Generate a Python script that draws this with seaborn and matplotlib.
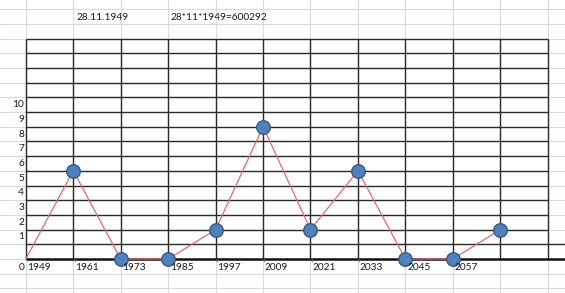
import matplotlib
matplotlib.use("Agg")
import matplotlib.pyplot as plt
import seaborn as sns
import pandas as pd
import numpy as np

# ---- data ----
years = [1949, 1961, 1973, 1985, 1997, 2009, 2021, 2033, 2045, 2057, 2069]
values = [0, 6, 0, 0, 2, 9, 2, 6, 0, 0, 2]
year_labels = ["1949", "1961", "1973", "1985", "1997", "2009", "2021", "2033", "2045", "2057"]
y_labels = ["1", "2", "3", "4", "5", "6", "7", "8", "9", "10"]
title_date = "28.11.1949"
title_formula = "28*11*1949=600292"

sns.set_theme(style="white")
plt.rcParams["font.family"] = ["Lato", "DejaVu Sans"]

df = pd.DataFrame({"year": years, "value": values})

fig = plt.figure(figsize=(5.65, 2.93), dpi=100)
ax = fig.add_axes([0, 0, 1, 1])
fig.patch.set_facecolor("white")
ax.set_facecolor("white")

# pixel mapping
ppy = 47.45 / 12.0
px0 = 25.8
x0 = 1949 - px0 / ppy
x1 = 1949 + (565 - px0) / ppy
y1 = (259 - 0) / 14.7
y0 = (259 - 293) / 14.7
ax.set_xlim(x0, x1)
ax.set_ylim(y0, y1)
ax.axis("off")

step = 12
col_years = [1949 + step * k for k in range(12)]

# light spreadsheet grid
for cy in col_years:
    ax.axvline(cy, color="#dadada", lw=0.8, zorder=0)
for r in range(-3, 18):
    ax.axhline(r, color="#dadada", lw=0.8, zorder=0)

# black table
left, right = col_years[0], col_years[-1]
for r in range(1, 16):
    xe = x1 if r == 1 else right
    ax.plot([left, xe], [r, r], color="#2a2a2a", lw=1.0, zorder=1, solid_capstyle="butt")
for cy in col_years:
    ax.plot([cy, cy], [0, 15], color="#2a2a2a", lw=1.0, zorder=1, solid_capstyle="butt")
ax.plot([left, x1], [0, 0], color="#111111", lw=1.8, zorder=1, solid_capstyle="butt")

# line (all points) + markers (not on the starting point)
sns.lineplot(data=df, x="year", y="value", ax=ax, color="#e46a6a", lw=0.9, zorder=3)
sns.scatterplot(data=df.iloc[1:], x="year", y="value", ax=ax, s=95,
                color="#4f81bd", edgecolor="#34598a", linewidth=1.0, zorder=4)
ax.set_xlim(x0, x1)
ax.set_ylim(y0, y1)

# green corner indicators on label cells
for yl in year_labels[1:]:
    yy = int(yl)
    ax.scatter([yy + 0.35], [-0.1], marker=(3, 0, 45), s=7, color="#2e8b2e", zorder=2, linewidths=0)

# text
fs = 7.3
tc = "#1a1a1a"
for yl in year_labels:
    ax.text(int(yl) + 0.45, -0.55, yl, fontsize=fs, color=tc, ha="left", va="center", zorder=5)
ax.text(1949 - 0.4, -0.55, "0", fontsize=fs, color=tc, ha="right", va="center")
for i, lab in enumerate(y_labels):
    ax.text(1949 - 0.4, i + 1.5, lab, fontsize=fs, color=tc, ha="right", va="center")

ax.text(1961 + 0.9, 16.4, title_date, fontsize=fs, color=tc, ha="left", va="center")
ax.text(1985 + 0.5, 16.4, title_formula, fontsize=fs, color=tc, ha="left", va="center")

fig.savefig("out.png", dpi=100)
